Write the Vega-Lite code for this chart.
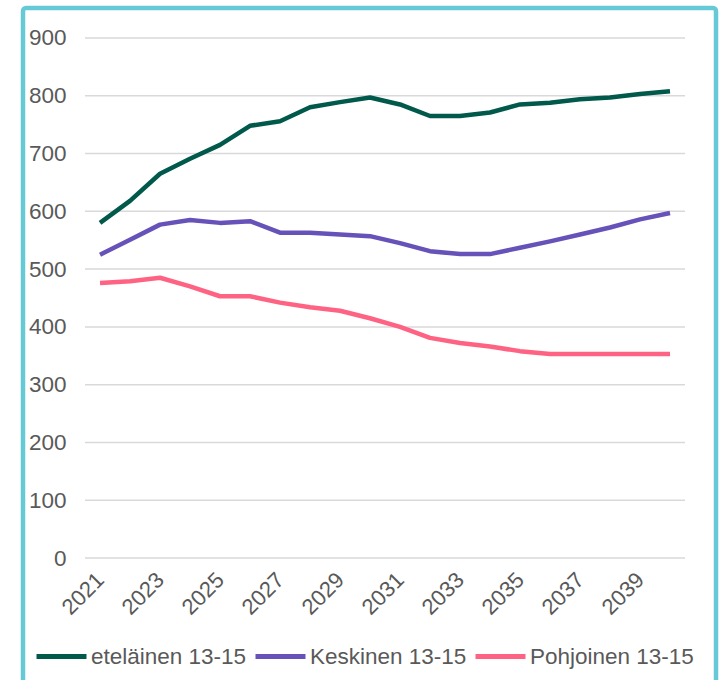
{
  "$schema": "https://vega.github.io/schema/vega-lite/v6.json",
  "autosize": "none",
  "width": 693,
  "height": 690,
  "padding": {"left": 23, "top": 8, "right": 7, "bottom": 0},
  "background": "white",
  "config": {
    "view": {"stroke": "#66c9d6", "strokeWidth": 4.5, "cornerRadius": 3},
    "font": "Liberation Sans"
  },
  "datasets": {
    "series": [
      {"year": 2021, "series": "eteläinen 13-15", "value": 580},
      {"year": 2022, "series": "eteläinen 13-15", "value": 618},
      {"year": 2023, "series": "eteläinen 13-15", "value": 665},
      {"year": 2024, "series": "eteläinen 13-15", "value": 691},
      {"year": 2025, "series": "eteläinen 13-15", "value": 715},
      {"year": 2026, "series": "eteläinen 13-15", "value": 748},
      {"year": 2027, "series": "eteläinen 13-15", "value": 756},
      {"year": 2028, "series": "eteläinen 13-15", "value": 780},
      {"year": 2029, "series": "eteläinen 13-15", "value": 789},
      {"year": 2030, "series": "eteläinen 13-15", "value": 797},
      {"year": 2031, "series": "eteläinen 13-15", "value": 785},
      {"year": 2032, "series": "eteläinen 13-15", "value": 765},
      {"year": 2033, "series": "eteläinen 13-15", "value": 765},
      {"year": 2034, "series": "eteläinen 13-15", "value": 771},
      {"year": 2035, "series": "eteläinen 13-15", "value": 785},
      {"year": 2036, "series": "eteläinen 13-15", "value": 788},
      {"year": 2037, "series": "eteläinen 13-15", "value": 794},
      {"year": 2038, "series": "eteläinen 13-15", "value": 797},
      {"year": 2039, "series": "eteläinen 13-15", "value": 803},
      {"year": 2040, "series": "eteläinen 13-15", "value": 808},
      {"year": 2021, "series": "Keskinen 13-15", "value": 525},
      {"year": 2022, "series": "Keskinen 13-15", "value": 551},
      {"year": 2023, "series": "Keskinen 13-15", "value": 577},
      {"year": 2024, "series": "Keskinen 13-15", "value": 585},
      {"year": 2025, "series": "Keskinen 13-15", "value": 580},
      {"year": 2026, "series": "Keskinen 13-15", "value": 583},
      {"year": 2027, "series": "Keskinen 13-15", "value": 563},
      {"year": 2028, "series": "Keskinen 13-15", "value": 563},
      {"year": 2029, "series": "Keskinen 13-15", "value": 560},
      {"year": 2030, "series": "Keskinen 13-15", "value": 557},
      {"year": 2031, "series": "Keskinen 13-15", "value": 545},
      {"year": 2032, "series": "Keskinen 13-15", "value": 531},
      {"year": 2033, "series": "Keskinen 13-15", "value": 526},
      {"year": 2034, "series": "Keskinen 13-15", "value": 526},
      {"year": 2035, "series": "Keskinen 13-15", "value": 537},
      {"year": 2036, "series": "Keskinen 13-15", "value": 548},
      {"year": 2037, "series": "Keskinen 13-15", "value": 560},
      {"year": 2038, "series": "Keskinen 13-15", "value": 572},
      {"year": 2039, "series": "Keskinen 13-15", "value": 586},
      {"year": 2040, "series": "Keskinen 13-15", "value": 597},
      {"year": 2021, "series": "Pohjoinen 13-15", "value": 476},
      {"year": 2022, "series": "Pohjoinen 13-15", "value": 479},
      {"year": 2023, "series": "Pohjoinen 13-15", "value": 485},
      {"year": 2024, "series": "Pohjoinen 13-15", "value": 470},
      {"year": 2025, "series": "Pohjoinen 13-15", "value": 453},
      {"year": 2026, "series": "Pohjoinen 13-15", "value": 453},
      {"year": 2027, "series": "Pohjoinen 13-15", "value": 442},
      {"year": 2028, "series": "Pohjoinen 13-15", "value": 434},
      {"year": 2029, "series": "Pohjoinen 13-15", "value": 428},
      {"year": 2030, "series": "Pohjoinen 13-15", "value": 415},
      {"year": 2031, "series": "Pohjoinen 13-15", "value": 400},
      {"year": 2032, "series": "Pohjoinen 13-15", "value": 381},
      {"year": 2033, "series": "Pohjoinen 13-15", "value": 372},
      {"year": 2034, "series": "Pohjoinen 13-15", "value": 366},
      {"year": 2035, "series": "Pohjoinen 13-15", "value": 358},
      {"year": 2036, "series": "Pohjoinen 13-15", "value": 353},
      {"year": 2037, "series": "Pohjoinen 13-15", "value": 353},
      {"year": 2038, "series": "Pohjoinen 13-15", "value": 353},
      {"year": 2039, "series": "Pohjoinen 13-15", "value": 353},
      {"year": 2040, "series": "Pohjoinen 13-15", "value": 353}
    ],
    "grid": [
      {"v": 0}, {"v": 100}, {"v": 200}, {"v": 300}, {"v": 400},
      {"v": 500}, {"v": 600}, {"v": 700}, {"v": 800}, {"v": 900}
    ]
  },
  "layer": [
    {
      "data": {"name": "grid"},
      "mark": {"type": "rule", "color": "#d9d9d9", "strokeWidth": 1.5},
      "encoding": {
        "x": {"datum": 2020.5, "type": "quantitative"},
        "x2": {"datum": 2040.5},
        "y": {"field": "v", "type": "quantitative"}
      }
    },
    {
      "data": {"name": "series"},
      "mark": {"type": "line", "strokeWidth": 4.5, "strokeJoin": "round", "strokeCap": "butt"},
      "encoding": {
        "x": {
          "field": "year",
          "type": "quantitative",
          "scale": {"domain": [2018.433, 2041.533], "nice": false, "zero": false},
          "axis": {
            "title": null,
            "values": [2021, 2023, 2025, 2027, 2029, 2031, 2033, 2035, 2037, 2039],
            "format": "d",
            "grid": false,
            "domain": false,
            "ticks": false,
            "tickSize": 0,
            "offset": -122,
            "labelPadding": 0,
            "labelAngle": -45,
            "labelAlign": "right",
            "labelBaseline": "middle",
            "labelFontSize": 22,
            "labelColor": "#595959",
            "labelFont": "Liberation Sans",
            "labelOverlap": false,
            "labelFlush": false
          }
        },
        "y": {
          "field": "value",
          "type": "quantitative",
          "scale": {"domain": [-242.3, 951.9], "nice": false, "zero": false},
          "axis": {
            "title": null,
            "values": [0, 100, 200, 300, 400, 500, 600, 700, 800, 900],
            "grid": false,
            "domain": false,
            "ticks": false,
            "tickSize": 0,
            "offset": -43,
            "labelPadding": 0,
            "labelFontSize": 22.5,
            "labelColor": "#595959",
            "labelFont": "Liberation Sans",
            "labelOverlap": false,
            "labelFlush": false
          }
        },
        "color": {
          "field": "series",
          "type": "nominal",
          "scale": {
            "domain": ["eteläinen 13-15", "Keskinen 13-15", "Pohjoinen 13-15"],
            "range": ["#00594a", "#6652b8", "#ff6383"]
          },
          "legend": {
            "title": null,
            "orient": "none",
            "direction": "horizontal",
            "legendX": 11,
            "legendY": 621,
            "padding": 0,
            "symbolType": "stroke",
            "symbolSize": 2500,
            "symbolStrokeWidth": 5,
            "labelFontSize": 22.5,
            "labelColor": "#595959",
            "labelFont": "Liberation Sans",
            "labelOffset": 2,
            "columnPadding": -2,
            "labelLimit": 300
          }
        }
      }
    }
  ]
}
